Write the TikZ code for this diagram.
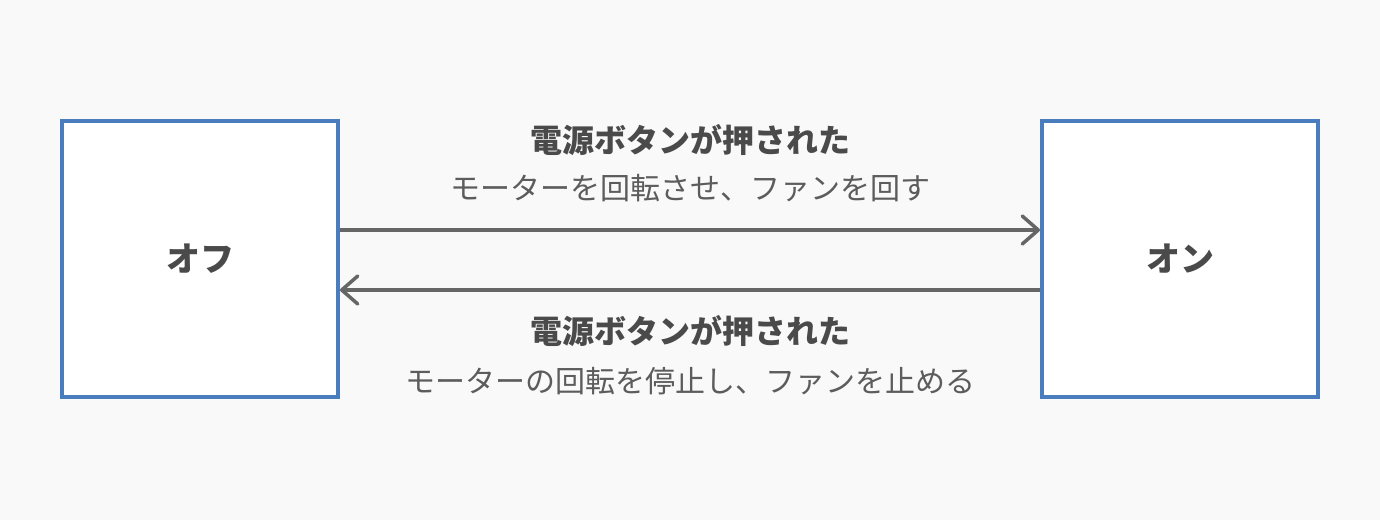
\documentclass[tikz,border=0pt]{standalone}
\usepackage{fontspec}
\setmainfont{Noto Sans CJK JP}
\usepackage{tikz}
\usetikzlibrary{arrows.meta,positioning}
\definecolor{bgcol}{HTML}{F9F9F9}
\definecolor{boxblue}{HTML}{4A7DBD}
\definecolor{arrgray}{HTML}{666666}
\definecolor{txtgray}{HTML}{4A4A4A}
\tikzset{>={Straight Barb[length=8pt,width=14pt,round]}}
\tikzset{state/.style={rectangle,draw=boxblue,fill=white,line width=2pt,
  minimum size=138pt,text=txtgray,font=\bfseries\fontsize{17pt}{19pt}\selectfont}}
\tikzset{trans/.style={->,draw=arrgray,line width=1.75pt}}
\tikzset{trig/.style={text=txtgray,font=\bfseries\fontsize{16pt}{18pt}\selectfont,inner sep=0pt}}
\tikzset{act/.style={text=txtgray!90,font=\fontsize{15pt}{17pt}\selectfont,inner sep=0pt}}

\begin{document}
\begin{tikzpicture}[x=0.5pt,y=-0.5pt]
  \fill[bgcol] (0,0) rectangle (1380,520) ;
  \useasboundingbox (0,0) rectangle (1380,520) ;

  \node (off) [state] at (200,259) {オフ};
  \node (on)  [state] at (1180,259) {オン};

  \draw[trans] ([yshift=14.5pt]off.east) -- ([yshift=14.5pt]on.west) ;
  \draw[trans] ([yshift=-15.5pt]on.west) -- ([yshift=-15.5pt]off.east) ;

  \node (trig1) [trig] at (690,140) {電源ボタンが押された};
  \node (act1)  [act]  at (690,188) {モーターを回転させ、ファンを回す};

  \node (trig2) [trig] at (690,331) {電源ボタンが押された};
  \node (act2)  [act]  at (690,381) {モーターの回転を停止し、ファンを止める};
\end{tikzpicture}
\end{document}
